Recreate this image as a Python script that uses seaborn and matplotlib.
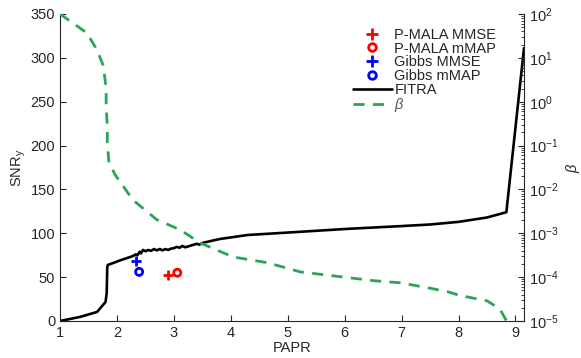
import numpy as np
import pandas as pd
import seaborn as sns
import matplotlib.pyplot as plt
from matplotlib.lines import Line2D

sns.set_style('ticks')
plt.rcParams['font.family'] = ['Liberation Sans', 'DejaVu Sans']
plt.rcParams['mathtext.fontset'] = 'custom'
plt.rcParams['mathtext.rm'] = 'Liberation Sans'
plt.rcParams['mathtext.it'] = 'Liberation Sans:italic'
plt.rcParams['xtick.direction'] = 'in'
plt.rcParams['ytick.direction'] = 'in'

# FITRA curve (PAPR vs SNR_y)
fitra_papr = [1.0, 1.35, 1.65, 1.80, 1.82, 1.83, 1.84, 1.93, 2.05, 2.18, 2.28, 2.33, 2.36, 2.40, 2.42,
              2.46, 2.50, 2.55, 2.60, 2.65, 2.70, 2.75, 2.80, 2.85, 2.90, 2.95, 3.00, 3.05, 3.10, 3.15,
              3.20, 3.25, 3.30, 3.40, 3.45, 3.50, 3.81, 4.29, 5.17, 6.04, 6.94, 7.50, 8.00, 8.50, 8.84, 9.15]
fitra_snr = [0, 4.6, 10.3, 21.7, 32, 61.6, 63.9, 66, 69, 71.8, 74, 76, 75, 79, 77,
             81, 79.5, 81, 80, 82, 80.5, 82, 80.5, 82, 81, 82.5, 83, 84.5, 83.5, 85.5,
             84, 85, 86, 88, 87, 89, 93.5, 98, 101.5, 105, 108, 110, 113, 118, 124, 311]

# beta curve (log10 values, right axis)
beta_papr = [1.0, 1.23, 1.47, 1.65, 1.76, 1.81, 1.81, 1.83, 1.83, 1.86, 1.97, 2.28, 2.70, 3.11, 3.46,
             4.04, 4.64, 5.22, 5.92, 6.50, 6.98, 7.45, 7.80, 8.03, 8.50, 8.61, 8.73, 8.84]
beta_log = [2.0, 1.79, 1.57, 1.18, 0.82, 0.31, -0.12, -0.53, -0.94, -1.39, -1.67, -2.24, -2.69, -2.92,
            -3.22, -3.54, -3.67, -3.88, -3.99, -4.08, -4.13, -4.24, -4.33, -4.42, -4.54, -4.63, -4.74,
            -4.99]

# estimator points
est_labels = ['P-MALA MMSE', 'P-MALA mMAP', 'Gibbs MMSE', 'Gibbs mMAP']
est_papr = [2.90, 3.06, 2.34, 2.39]
est_snr = [52.5, 55, 68, 56]
est_colors = ['red', 'red', 'blue', 'blue']
est_markers = ['+', 'o', '+', 'o']

green = '#2ba45a'

fitra = pd.DataFrame({'PAPR': fitra_papr, 'SNR': fitra_snr})
beta = pd.DataFrame({'PAPR': beta_papr, 'beta': np.power(10.0, beta_log)})

fig = plt.figure(figsize=(5.81, 3.58), dpi=100)
ax = fig.add_axes([0.1033, 0.1034, 0.7986, 0.8575])
ax2 = ax.twinx()

sns.lineplot(data=fitra, x='PAPR', y='SNR', sort=False, estimator=None, color='black', lw=1.9, ax=ax)
sns.lineplot(data=beta, x='PAPR', y='beta', sort=False, estimator=None, color=green, lw=2.0,
             dashes=False, ax=ax2)
ax2.lines[0].set_dashes([4, 3])

for lab, px, sy, c, m in zip(est_labels, est_papr, est_snr, est_colors, est_markers):
    d = pd.DataFrame({'PAPR': [px], 'SNR': [sy]})
    if m == '+':
        sns.scatterplot(data=d, x='PAPR', y='SNR', marker='+', color=c, s=60, linewidth=2, ax=ax)
    else:
        sns.scatterplot(data=d, x='PAPR', y='SNR', marker='o', facecolors='none', edgecolor=c,
                        s=26, linewidth=2, ax=ax)

ax.set_xlim(1, 9.15)
ax.set_ylim(0, 350)
ax.set_xticks(range(1, 10))
ax.set_yticks(range(0, 351, 50))
ax.set_xlabel('PAPR', fontsize=10.5, labelpad=1)
ax.set_ylabel('SNR$_\\mathregular{y}$', fontsize=10.5, labelpad=2)
ax.tick_params(labelsize=10.5, length=4, width=0.8)

ax2.set_yscale('log')
ax2.set_ylim(1e-5, 1e2)
ax2.set_xlabel('')
ax2.set_ylabel('$\\beta$', fontsize=10.5, labelpad=4)
ax2.tick_params(labelsize=10.5, length=4, width=0.8)
ax2.tick_params(which='minor', length=2, width=0.6)

for a in (ax, ax2):
    a.spines['top'].set_visible(False)
    for s in a.spines.values():
        s.set_linewidth(0.8)
        s.set_color('#262626')
ax.spines['right'].set_visible(False)
ax2.spines['left'].set_visible(False)
ax2.spines['bottom'].set_visible(False)

handles = [Line2D([], [], ls='none', marker=m, color=c, markerfacecolor='none',
                  markersize=(8 if m == '+' else 5.5), markeredgewidth=2)
           for m, c in zip(est_markers, est_colors)]
handles.append(Line2D([], [], color='black', lw=1.9))
handles.append(Line2D([], [], color=green, lw=2.0, dashes=[4, 3]))
labels = est_labels + ['FITRA', '$\\beta$']
leg = ax2.legend(handles, labels, loc='upper left', bbox_to_anchor=(0.609, 0.988), frameon=False,
                 fontsize=10.5, handlelength=2.7, handletextpad=0.15, labelspacing=-0.02,
                 borderaxespad=0.3)
leg.get_texts()[-1].set_color('#555555')

fig.savefig('out.png', dpi=100)
